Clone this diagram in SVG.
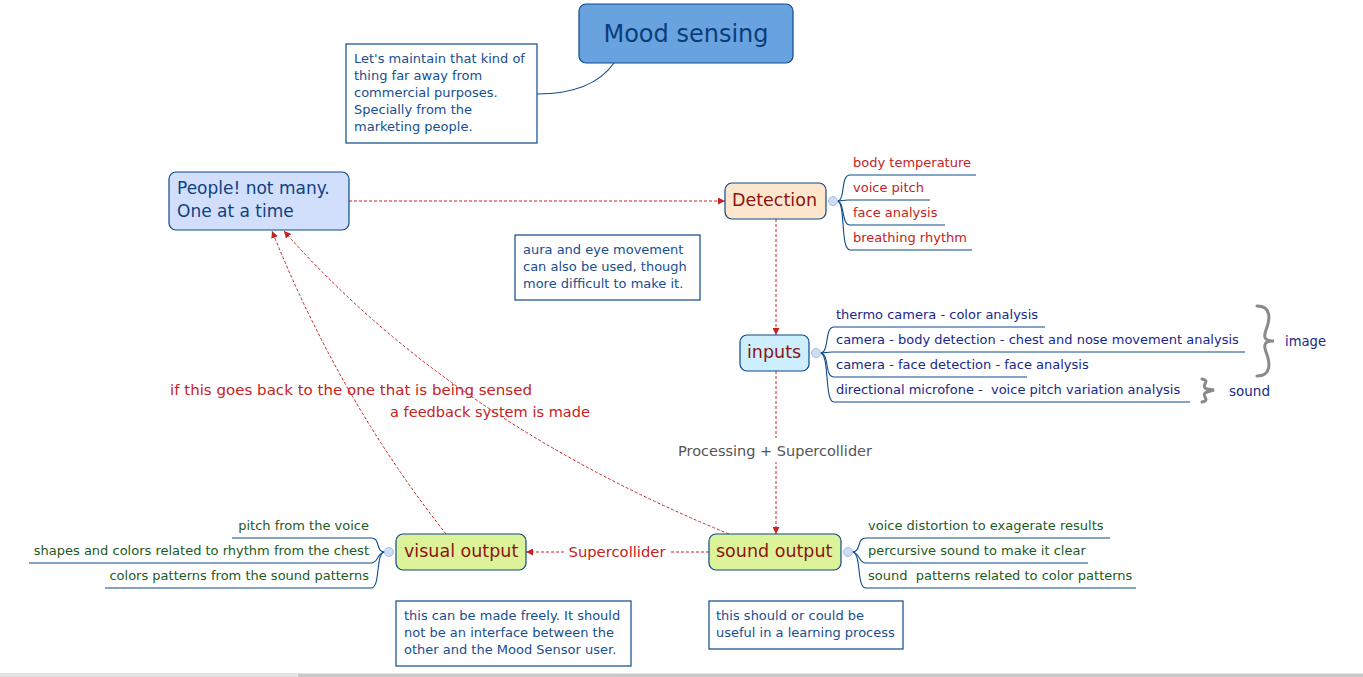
<svg xmlns="http://www.w3.org/2000/svg" width="1363" height="677" viewBox="0 0 1363 677">
<defs>
<style>
.node{stroke:#0d4a8a;stroke-width:1.2}
.note{fill:#fff;stroke:#0d4a8a;stroke-width:1.2}
.nt{font-family:"DejaVu Sans",sans-serif;font-size:13px;fill:#174e8f}
.nodet{font-family:"DejaVu Sans",sans-serif;font-size:17.5px;fill:#8b1414}
.br{fill:none;stroke:#0d4a8a;stroke-width:1.1}
.red{font-family:"DejaVu Sans",sans-serif;font-size:13px;fill:#c62222}
.navy{font-family:"DejaVu Sans",sans-serif;font-size:13px;fill:#16288a}
.green{font-family:"DejaVu Sans",sans-serif;font-size:13px;fill:#1d5a1d}
.conn{fill:none;stroke:#c62222;stroke-width:1;stroke-dasharray:3 2}
.lbl{font-family:"DejaVu Sans",sans-serif;font-size:14px;fill:#c62222}
.knob{fill:#cfdcf6;stroke:#a8bde6;stroke-width:1}
.brace{fill:none;stroke:#8a8a8a;stroke-width:3;stroke-linecap:round}
</style>
<marker id="arr" viewBox="0 0 10 10" refX="10" refY="5" markerWidth="7" markerHeight="7" orient="auto" markerUnits="userSpaceOnUse">
<path d="M0,0 L10,5 L0,10 z" fill="#c62222"/>
</marker>
</defs>

<rect x="0" y="673" width="1363" height="4" fill="#e4e4e4"/>
<rect x="298" y="674" width="1065" height="3" fill="#c9c9c9"/>

<g id="connectors">
<path class="br" d="M614,63 Q592,94 537,94"/>
<path class="conn" d="M349,201 L725,201" marker-end="url(#arr)"/>
<path class="conn" d="M776,219 L776,335" marker-end="url(#arr)"/>
<path class="conn" d="M776,371 L776,534" marker-end="url(#arr)"/>
<path class="conn" d="M709,552 L526,552" marker-end="url(#arr)"/>
<path class="conn" d="M446,534 Q340,400 272,231" marker-end="url(#arr)"/>
<path class="conn" d="M729,534 Q450,420 284,231" marker-end="url(#arr)"/>
<rect x="676" y="438" width="198" height="24" fill="#fff"/>
<text x="775" y="456" text-anchor="middle" font-family="DejaVu Sans,sans-serif" font-size="14" fill="#555" textLength="194" lengthAdjust="spacingAndGlyphs">Processing + Supercollider</text>
<rect x="566" y="542" width="103" height="20" fill="#fff"/>
<text x="617" y="557" text-anchor="middle" class="lbl" textLength="97" lengthAdjust="spacingAndGlyphs">Supercollider</text>
<text x="170" y="395" class="lbl" textLength="362" lengthAdjust="spacingAndGlyphs">if this goes back to the one that is being sensed</text>
<text x="390" y="417" class="lbl" textLength="200" lengthAdjust="spacingAndGlyphs">a feedback system is made</text>
</g>

<g id="mood-sensing">
<rect class="node" x="579" y="4" width="214" height="59" rx="7" fill="#68a3df"/>
<text x="686" y="42" text-anchor="middle" font-family="DejaVu Sans,sans-serif" font-size="24" fill="#0b3d7a">Mood sensing</text>
</g>

<g id="note-commercial">
<rect class="note" x="346" y="44" width="191" height="99"/>
<text class="nt" x="354" y="63">Let's maintain that kind of</text>
<text class="nt" x="354" y="80">thing far away from</text>
<text class="nt" x="354" y="97">commercial purposes.</text>
<text class="nt" x="354" y="114">Specially from the</text>
<text class="nt" x="354" y="131">marketing people.</text>
</g>

<g id="people">
<rect class="node" x="169" y="172" width="180" height="58" rx="7" fill="#d1dffd"/>
<text x="177" y="194" font-family="DejaVu Sans,sans-serif" font-size="17" fill="#0f3f80">People! not many.</text>
<text x="177" y="217" font-family="DejaVu Sans,sans-serif" font-size="17" fill="#0f3f80">One at a time</text>
</g>

<g id="detection">
<rect class="node" x="725" y="183" width="101" height="36" rx="7" fill="#fde6cc"/>
<text class="nodet" x="732" y="206">Detection</text>
<path class="br" d="M837,201 C846,201 840,175 850,175 L976,175"/>
<path class="br" d="M837,201 C843,201 842,200 848,200 L930,200"/>
<path class="br" d="M837,201 C845,201 841,225 850,225 L945,225"/>
<path class="br" d="M837,201 C846,201 840,250 850,250 L972,250"/>
<circle class="knob" cx="833" cy="201" r="4.5"/>
<text class="red" x="853" y="167">body temperature</text>
<text class="red" x="853" y="192">voice pitch</text>
<text class="red" x="853" y="217">face analysis</text>
<text class="red" x="853" y="242">breathing rhythm</text>
</g>

<g id="note-aura">
<rect class="note" x="515" y="235" width="185" height="65"/>
<text class="nt" x="523" y="254">aura and eye movement</text>
<text class="nt" x="523" y="271">can also be used, though</text>
<text class="nt" x="523" y="288">more difficult to make it.</text>
</g>

<g id="inputs">
<rect class="node" x="740" y="335" width="69" height="36" rx="7" fill="#cdeefc"/>
<text class="nodet" x="747" y="358">inputs</text>
<path class="br" d="M820,353 C830,353 824,327 834,327 L1045,327"/>
<path class="br" d="M820,353 C826,353 826,352 832,352 L1245,352"/>
<path class="br" d="M820,353 C830,353 824,377 834,377 L1027,377"/>
<path class="br" d="M820,353 C830,353 824,402 834,402 L1190,402"/>
<circle class="knob" cx="816" cy="353" r="4.5"/>
<text class="navy" x="836" y="319">thermo camera - color analysis</text>
<text class="navy" x="836" y="344">camera - body detection - chest and nose movement analysis</text>
<text class="navy" x="836" y="369">camera - face detection - face analysis</text>
<text class="navy" x="836" y="394" xml:space="preserve">directional microfone -  voice pitch variation analysis</text>
<path class="brace" d="M1257,306 C1272,306 1270,320 1266,330 C1263,338 1265,341 1274,341 C1265,341 1263,344 1266,352 C1270,362 1272,376 1257,376"/>
<path class="brace" d="M1202,379 C1212,381 1199,386 1207,389 L1214,390 L1207,392 C1199,395 1212,400 1202,402" stroke-width="2"/>
<text x="1285" y="346" font-family="DejaVu Sans,sans-serif" font-size="14" fill="#16288a" textLength="41" lengthAdjust="spacingAndGlyphs">image</text>
<text x="1229" y="396" font-family="DejaVu Sans,sans-serif" font-size="14" fill="#16288a" textLength="41" lengthAdjust="spacingAndGlyphs">sound</text>
</g>

<g id="visual-output">
<rect class="node" x="396" y="534" width="130" height="36" rx="7" fill="#ddf39a"/>
<text class="nodet" x="404" y="557">visual output</text>
<path class="br" d="M385,552 C375,552 381,538 371,538 L232,538"/>
<path class="br" d="M385,552 C377,552 379,563 371,563 L29,563"/>
<path class="br" d="M385,552 C375,552 381,588 371,588 L105,588"/>
<circle class="knob" cx="389" cy="552" r="4.5"/>
<text class="green" x="369" y="530" text-anchor="end">pitch from the voice</text>
<text class="green" x="369" y="555" text-anchor="end">shapes and colors related to rhythm from the chest</text>
<text class="green" x="369" y="580" text-anchor="end">colors patterns from the sound patterns</text>
</g>

<g id="sound-output">
<rect class="node" x="709" y="534" width="132" height="36" rx="7" fill="#ddf39a"/>
<text class="nodet" x="716" y="557">sound output</text>
<path class="br" d="M852,552 C862,552 856,538 866,538 L1110,538"/>
<path class="br" d="M852,552 C860,552 858,563 866,563 L1088,563"/>
<path class="br" d="M852,552 C862,552 856,588 866,588 L1136,588"/>
<circle class="knob" cx="848" cy="552" r="4.5"/>
<text class="green" x="868" y="530">voice distortion to exagerate results</text>
<text class="green" x="868" y="555">percursive sound to make it clear</text>
<text class="green" x="868" y="580" xml:space="preserve">sound  patterns related to color patterns</text>
</g>

<g id="note-freely">
<rect class="note" x="396" y="601" width="235" height="65"/>
<text class="nt" x="404" y="620">this can be made freely. It should</text>
<text class="nt" x="404" y="637">not be an interface between the</text>
<text class="nt" x="404" y="654">other and the Mood Sensor user.</text>
</g>

<g id="note-learning">
<rect class="note" x="709" y="601" width="194" height="48"/>
<text class="nt" x="716" y="620">this should or could be</text>
<text class="nt" x="716" y="637">useful in a learning process</text>
</g>
</svg>
